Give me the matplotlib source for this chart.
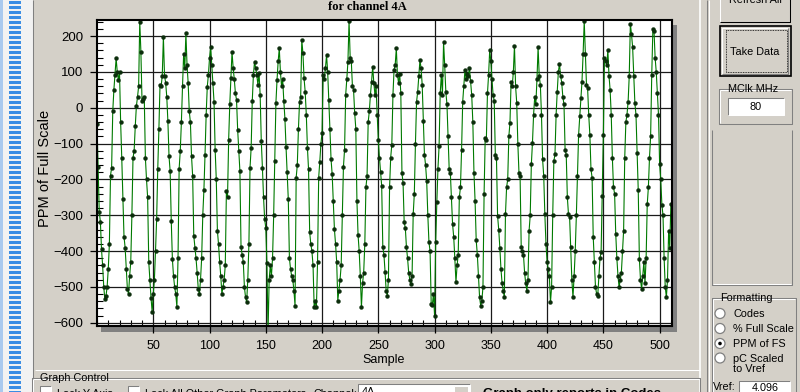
import matplotlib
matplotlib.use("Agg")
import matplotlib.pyplot as plt
from matplotlib.patches import Rectangle, Circle
from matplotlib.ticker import MultipleLocator

# values, one per sample (0..511)
ppm = [
    -45, -165, -290, -318, -395, -440, -500, -535, -525, -500,
    -450, -380, -189, -167, -10, 50, 92, 138, 100, 78,
    100, -40, -140, -255, -360, -390, -450, -505, -520, -470,
    -430, -300, -140, -120, -52, 5, 30, 60, 240, 157,
    20, 25, 30, -140, -200, -250, -430, -480, -530, -569,
    -520, -480, -400, -311, -170, -60, 64, 60, 90, 198,
    90, 70, 31, -38, -135, -177, -316, -422, -470, -500,
    -520, -556, -420, -170, -120, -40, 60, 150, 110, 208,
    120, 70, -10, -40, -135, -190, -357, -390, -420, -460,
    -505, -520, -480, -420, -300, -230, -131, -20, 59, 92,
    139, 170, 120, 70, 17, -117, -200, -343, -381, -430,
    -470, -519, -500, -480, -440, -232, -250, -89, 10, 83,
    156, 111, 80, 41, 22, -61, -121, -177, -389, -410,
    -430, -500, -529, -542, -480, -381, -167, -111, 20, 92,
    129, 110, 92, 64, 97, 36, -93, -167, -250, -311,
    -335, -433, -625, -480, -440, -470, -420, -300, -149, 14,
    78, 130, 166, 100, 60, 80, 20, -30, -110, -180,
    -255, -420, -450, -470, -480, -510, -552, -195, -160, -60,
    17, 30, 189, 153, 83, 45, -19, -111, -172, -347,
    -380, -400, -440, -557, -540, -557, -430, -195, -150, -100,
    -70, 92, 80, 110, 147, 100, 22, -60, -144, -186,
    -260, -339, -380, -430, -538, -510, -480, -440, -300, -165,
    -117, 36, 80, 129, 242, 140, 130, 60, 50, -14,
    -58, -260, -355, -400, -470, -557, -490, -460, -380, -222,
    -190, -40, -10, 36, 73, 115, 70, 36, 60, -20,
    -90, -139, -180, -218, -389, -410, -458, -512, -524, -480,
    -222, -139, -103, 36, 106, 120, 166, 92, 69, 95,
    40, -181, -210, -320, -335, -389, -420, -460, -480, -492,
    -470, -297, -240, -100, 17, 45, 90, 133, 111, 64,
    -38, -131, -160, -205, -300, -375, -400, -547, -550, -520,
    -580, -375, -264, -170, -107, 40, 92, 36, 184, 119,
    45, 10, -80, -172, -181, -250, -325, -360, -420, -487,
    -440, -410, -250, -222, -117, 17, 60, 106, 80, 95,
    90, 111, 75, 36, -40, -181, -260, -370, -410, -470,
    -529, -552, -540, -500, -242, -83, -90, 40, 92, 161,
    130, 80, 36, 20, -131, -140, -302, -340, -390, -450,
    -490, -510, -529, -297, -222, -200, -80, -42, 73, 60,
    100, 173, 60, 14, -100, -181, -190, -389, -400, -410,
    -460, -490, -510, -480, -343, -300, -158, -97, -19, 31,
    10, 80, 169, 90, 64, -19, -144, -190, -297, -380,
    -430, -450, -470, -543, -500, -300, -149, -130, -20, 45,
    100, 122, 90, 70, 30, 10, -117, -131, -250, -297,
    -305, -389, -480, -529, -470, -400, -300, -190, -75, -24,
    28, 73, 150, 242, 150, 64, 55, -20, -75, -172,
    -195, -361, -430, -500, -519, -524, -470, -420, -403, -246,
    -75, 139, 130, 120, 160, 90, 50, -20, -139, -222,
    -240, -352, -420, -470, -501, -480, -460, -400, -343, -139,
    -40, -19, 17, 89, 235, 205, 170, 90, 14, -20,
    -125, -230, -422, -480, -505, -470, -430, -490, -420, -269,
    -222, -139, -80, 92, 219, 215, 140, 100, 40, -19,
    -158, -200, -270, -300, -420, -500, -529, -480, -343, -390,
    -269, -300,
]
samples = list(range(len(ppm)))

x_ticks = [50, 100, 150, 200, 250, 300, 350, 400, 450, 500]
y_ticks = [-600, -500, -400, -300, -200, -100, 0, 100, 200]

title = "for channel 4A"
x_label = "Sample"
y_label = "PPM of Full Scale"
format_options = ["Codes", "% Full Scale", "PPM of FS", "pC Scaled\nto Vref"]
format_selected = "PPM of FS"

GRAY = "#d4d0c8"
SHADOW = "#808080"
GUI_FONT = "Liberation Sans"

fig = plt.figure(figsize=(8, 3.92), dpi=100)
fig.patch.set_facecolor(GRAY)

# pixel-space layer for the window furniture
bg = fig.add_axes([0, 0, 1, 1], zorder=0)
bg.set_xlim(0, 800)
bg.set_ylim(392, 0)
bg.axis("off")


def box(x, y, w, h, fc="none", ec="none", lw=0.75, **kw):
    bg.add_patch(Rectangle((x, y), w, h, facecolor=fc, edgecolor=ec, lw=lw, **kw))


def line(xs, ys, color, lw=0.75, **kw):
    bg.plot(xs, ys, color=color, lw=lw, solid_capstyle="butt", **kw)


def sunken(x, y, w, h, fc="white"):
    box(x, y, w, h, fc=fc)
    line([x, x, x + w], [y + h, y, y], SHADOW)
    line([x, x + w, x + w], [y + h, y + h, y], "white")


def etched_group(x, y, w, h):
    line([x, x, x + w, x + w, x], [y, y + h, y + h, y, y], SHADOW)
    line([x + 1, x + 1], [y + 1, y + h - 1], "white")
    line([x + 1, x + w - 1], [y + 1, y + 1], "white")


def gui_text(x, y, s, ha="left", **kw):
    bg.text(x, y, s, ha=ha, va="center", fontsize=7.8, family=GUI_FONT, **kw)


# left list strip
box(0, 0, 33, 392, fc="#f2f2f2")
box(0, 0, 3, 392, fc="#a9c9ee")
for yb in range(0, 392, 5):
    box(9, yb + 0.6, 12, 3.8, fc="#3a8de4")
line([33, 33], [0, 392], SHADOW)

# chart panel separators
line([700, 700], [0, 392], "white", lw=1.2)
line([707, 707], [0, 392], SHADOW)
line([709, 709], [0, 392], "white")

# shadow behind the plot box
box(101, 25, 576, 307, fc=SHADOW)

bg.text(367, 6.5, title, ha="center", va="center", fontsize=9,
        family="Liberation Serif", weight="bold")
bg.text(384, 360, x_label, ha="center", va="center", fontsize=9, family=GUI_FONT)
bg.text(45, 168, y_label, ha="center", va="center", fontsize=10.5,
        family=GUI_FONT, rotation=90)

# right-hand controls
box(720, -4, 71, 26, fc=GRAY)
line([720, 720, 790], [22, -4, -4], "white")
line([720, 790, 790], [22, 22, -4], "black")
gui_text(755, 0, "Refresh All", ha="center")

box(720, 26, 71, 50, fc=GRAY, ec="black", lw=1.2)
line([722, 722, 788], [74, 28, 28], "white")
line([722, 788, 788], [74, 74, 28], SHADOW)
box(726, 30, 61, 42, ec="black", lw=0.6, ls=(0, (1, 1)))
gui_text(755, 52, "Take Data", ha="center")

etched_group(719, 89, 73, 35)
box(726, 84, 54, 10, fc=GRAY)
gui_text(753, 89, "MClk MHz", ha="center")
sunken(728, 98, 56, 17)
gui_text(756, 106.5, "80", ha="center")

line([712, 712, 792, 792], [130, 285, 285, 130], SHADOW)
line([713, 791], [284, 284], "white")

etched_group(712, 298, 84, 120)
box(718, 292, 56, 12, fc=GRAY)
gui_text(720, 298, "Formatting")
radio_y = [313.5, 328.5, 343.5, 358]
text_y = [314, 329, 344, 364]
for opt, ry, ty in zip(format_options, radio_y, text_y):
    bg.add_patch(Circle((720, ry), 5, facecolor="white", edgecolor=SHADOW, lw=0.9))
    if opt == format_selected:
        bg.add_patch(Circle((720, ry), 1.8, facecolor="black", edgecolor="none"))
    gui_text(733, ty, opt, linespacing=1.05)
gui_text(713, 387, "Vref:")
sunken(739, 381, 51, 16)
gui_text(765, 388, "4.096", ha="center")

# bottom graph control strip (cut by the window edge, as in the screenshot)
line([35, 700], [370, 370], "white")
etched_group(32, 378, 668, 40)
box(38, 372, 66, 12, fc=GRAY)
gui_text(40, 378, "Graph Control")
sunken(40, 386, 11, 11)
gui_text(57, 394, "Lock Y Axis")
sunken(128, 386, 11, 11)
gui_text(145, 394, "Lock All Other Graph Parameters")
gui_text(313, 394, "Channel:")
sunken(358, 384, 112, 16)
box(454, 386, 14, 12, fc=GRAY)
line([454, 454, 468], [398, 386, 386], "white")
gui_text(362, 392, "4A")
bg.text(483, 394, "Graph only reports in Codes", ha="left", va="center",
        fontsize=9.5, family=GUI_FONT, weight="bold")

# the chart itself
ax = fig.add_axes([97 / 800, 1 - 326 / 392, 575 / 800, 306 / 392], zorder=2)
ax.set_facecolor("white")
ax.plot(samples, ppm, color="#007a00", lw=0.8, marker="o", ms=2.8,
        mfc="#0b2d0b", mec="#0b2d0b", mew=0.3)
ax.set_xlim(0, 511)
ax.set_ylim(-609, 245)
ax.set_xticks(x_ticks)
ax.set_yticks(y_ticks)
ax.xaxis.set_minor_locator(MultipleLocator(10))
ax.yaxis.set_minor_locator(MultipleLocator(20))
ax.grid(True, which="major", color="#1a1a1a", lw=0.9)
ax.set_axisbelow(True)
ax.tick_params(which="major", direction="out", length=5, width=0.9,
               color="black", pad=5)
ax.tick_params(which="minor", direction="in", length=4, width=0.8, color="black")
ax.tick_params(axis="x", labelsize=9)
ax.tick_params(axis="y", labelsize=9.5)
for lab in ax.get_xticklabels() + ax.get_yticklabels():
    lab.set_family(GUI_FONT)
for sp in ax.spines.values():
    sp.set_linewidth(1.5)
    sp.set_color("black")

fig.savefig("out.png", dpi=100, facecolor=fig.get_facecolor())
